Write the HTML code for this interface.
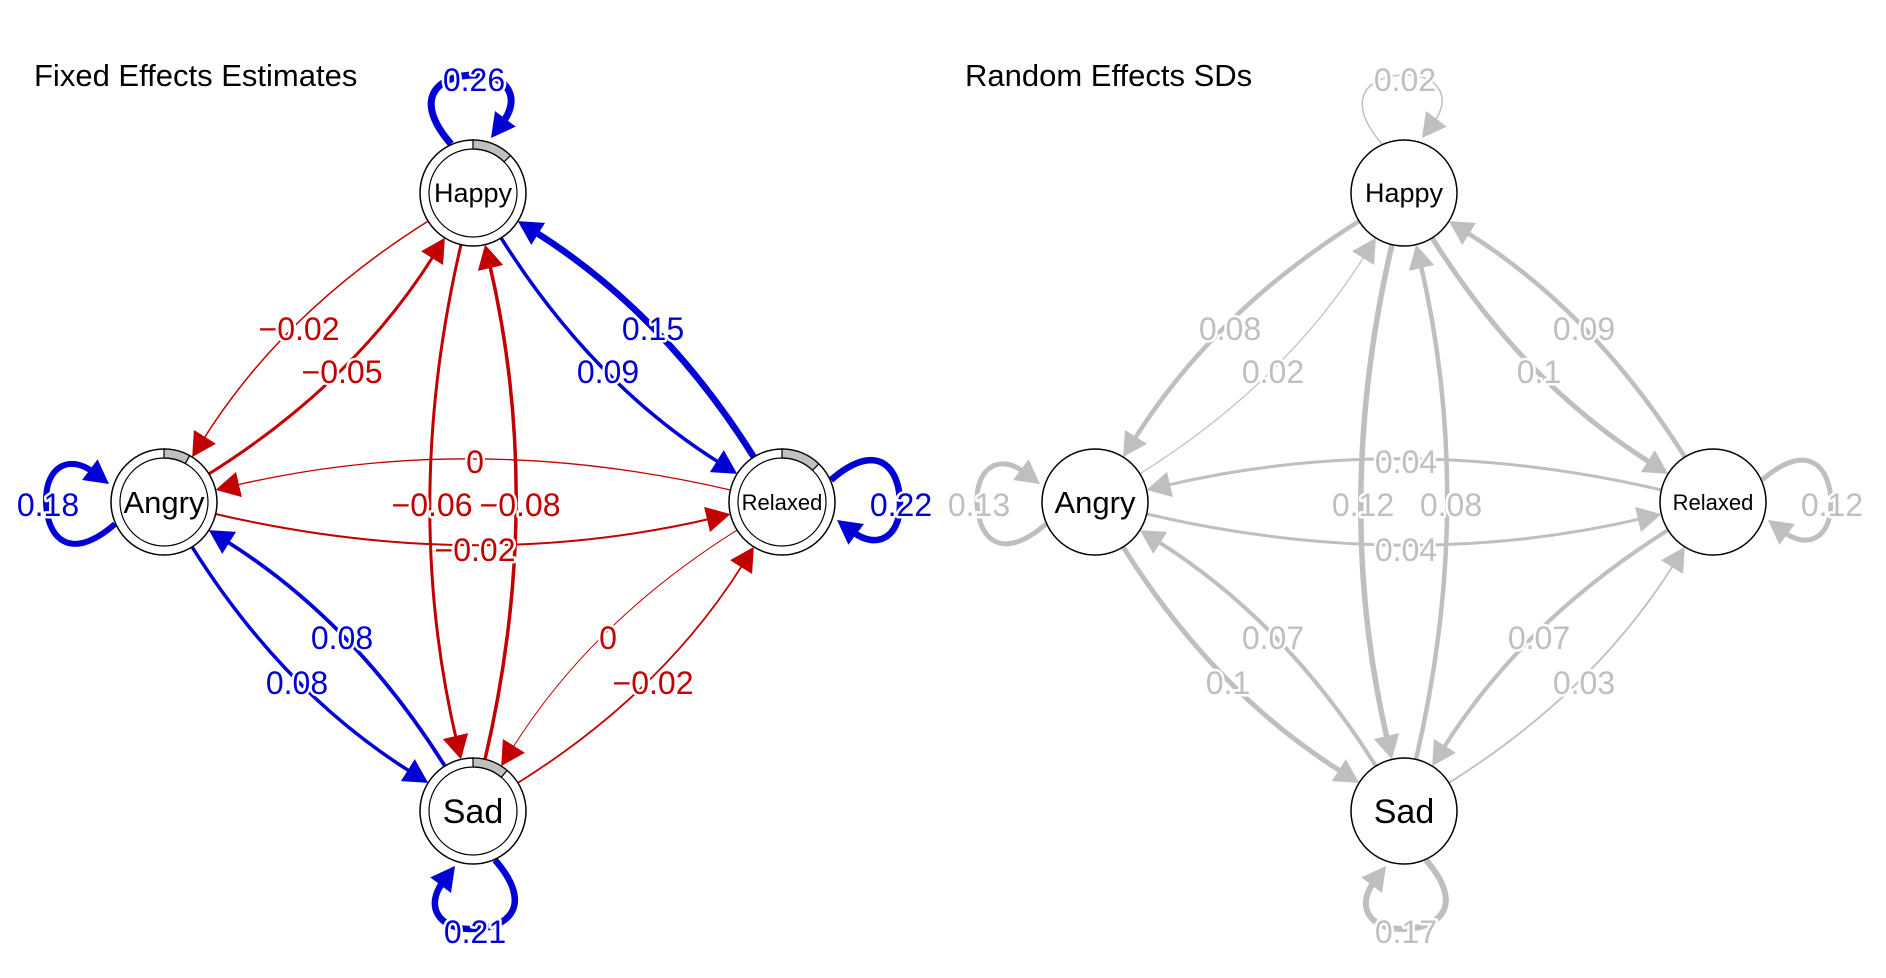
<!DOCTYPE html>
<html><head><meta charset="utf-8"><style>
html,body{margin:0;padding:0;background:#fff;}
svg{display:block;}
text{font-family:"Liberation Sans",Arial,sans-serif;}
.lb{font-size:32px;text-anchor:middle;paint-order:stroke;stroke:#fff;stroke-width:5px;stroke-linejoin:round;}
.nd{text-anchor:middle;fill:#000;}
</style></head><body>
<svg width="1886" height="978" viewBox="0 0 1886 978" xmlns="http://www.w3.org/2000/svg">
<defs>
<marker id="mb" markerWidth="26" markerHeight="28" refX="4" refY="14" orient="auto" markerUnits="userSpaceOnUse" viewBox="0 0 26 28"><path d="M0,1 L24,14 L0,27 z" fill="#0000d5"/></marker>
<marker id="mr" markerWidth="26" markerHeight="28" refX="4" refY="14" orient="auto" markerUnits="userSpaceOnUse" viewBox="0 0 26 28"><path d="M0,1 L24,14 L0,27 z" fill="#c20000"/></marker>
<marker id="mg" markerWidth="26" markerHeight="28" refX="4" refY="14" orient="auto" markerUnits="userSpaceOnUse" viewBox="0 0 26 28"><path d="M0,1 L24,14 L0,27 z" fill="#bfbfbf"/></marker>
<path id="loop" d="M-22,-49 C-62,-95 -35,-118 2,-118 C35,-118 48,-95 30,-71" fill="none"/>
</defs>

<text x="34" y="86" font-size="31" fill="#000">Fixed Effects Estimates</text>
<text x="965" y="86" font-size="31" fill="#000">Random Effects SDs</text>

<g fill="none">
<path d="M428.1,221.1 Q283.1,312.1 202.8,440.2" stroke="#c20000" stroke-width="1.5" marker-end="url(#mr)"/>
<path d="M208.9,473.9 Q353.9,382.9 434.2,254.8" stroke="#c20000" stroke-width="3" marker-end="url(#mr)"/>
<path d="M753.9,457.1 Q662.9,312.1 534.8,231.8" stroke="#0000d5" stroke-width="6.5" marker-end="url(#mb)"/>
<path d="M501.1,237.9 Q592.1,382.9 720.2,463.2" stroke="#0000d5" stroke-width="3.5" marker-end="url(#mb)"/>
<path d="M517.9,782.9 Q662.9,691.9 743.2,563.8" stroke="#c20000" stroke-width="1.8" marker-end="url(#mr)"/>
<path d="M737.1,530.1 Q592.1,621.1 511.8,749.2" stroke="#c20000" stroke-width="1" marker-end="url(#mr)"/>
<path d="M192.1,546.9 Q283.1,691.9 411.2,772.2" stroke="#0000d5" stroke-width="3.5" marker-end="url(#mb)"/>
<path d="M444.9,766.1 Q353.9,621.1 225.8,540.8" stroke="#0000d5" stroke-width="3.8" marker-end="url(#mb)"/>
<path d="M730.4,490 Q473,430 235.1,485.4" stroke="#c20000" stroke-width="1.3" marker-end="url(#mr)"/>
<path d="M215.6,514 Q473,574 710.9,518.6" stroke="#c20000" stroke-width="2" marker-end="url(#mr)"/>
<path d="M461,244.6 Q401,502 456.4,739.9" stroke="#c20000" stroke-width="3" marker-end="url(#mr)"/>
<path d="M485,759.4 Q545,502 489.6,264.1" stroke="#c20000" stroke-width="3.5" marker-end="url(#mr)"/>
<use href="#loop" transform="translate(473,193)" stroke="#0000d5" stroke-width="7" marker-end="url(#mb)"/>
<use href="#loop" transform="translate(164,502) rotate(-90)" stroke="#0000d5" stroke-width="6" marker-end="url(#mb)"/>
<use href="#loop" transform="translate(782,502) rotate(90)" stroke="#0000d5" stroke-width="6.5" marker-end="url(#mb)"/>
<use href="#loop" transform="translate(473,811) rotate(180)" stroke="#0000d5" stroke-width="6.5" marker-end="url(#mb)"/>
</g>

<g stroke="#000" stroke-width="1.5" fill="#fff">
<circle cx="473" cy="193" r="53"/><circle cx="164" cy="502" r="53"/><circle cx="782" cy="502" r="53"/><circle cx="473" cy="811" r="53"/>
</g>
<g fill="#c0c0c0" stroke="#000" stroke-width="1.2">
<path d="M473,140 A53,53 0 0 1 510.5,155.5 L504.1,161.9 A44,44 0 0 0 473,149 Z"/>
<path d="M164,449 A53,53 0 0 1 189.7,455.6 L185.3,463.5 A44,44 0 0 0 164,458 Z"/>
<path d="M782,449 A53,53 0 0 1 818.8,463.9 L812.6,470.3 A44,44 0 0 0 782,458 Z"/>
<path d="M473,758 A53,53 0 0 1 507.1,770.4 L501.3,777.3 A44,44 0 0 0 473,767 Z"/>
</g>
<g fill="none" stroke="#000" stroke-width="1.2">
<circle cx="473" cy="193" r="44"/><circle cx="164" cy="502" r="44"/><circle cx="782" cy="502" r="44"/><circle cx="473" cy="811" r="44"/>
</g>
<text class="nd" x="473" y="202" font-size="27">Happy</text>
<text class="nd" x="164" y="513" font-size="31">Angry</text>
<text class="nd" x="782" y="510" font-size="22">Relaxed</text>
<text class="nd" x="473" y="823" font-size="34">Sad</text>

<g class="lb">
<text x="474" y="91" fill="#0000d5">0.26</text>
<text x="299" y="340" fill="#c20000">−0.02</text>
<text x="342" y="383" fill="#c20000">−0.05</text>
<text x="653" y="340" fill="#0000d5">0.15</text>
<text x="608" y="383" fill="#0000d5">0.09</text>
<text x="475" y="473" fill="#c20000">0</text>
<text x="48" y="516" fill="#0000d5">0.18</text>
<text x="901" y="516" fill="#0000d5">0.22</text>
<text x="432" y="516" fill="#c20000">−0.06</text>
<text x="520" y="516" fill="#c20000">−0.08</text>
<text x="475" y="561" fill="#c20000">−0.02</text>
<text x="342" y="649" fill="#0000d5">0.08</text>
<text x="297" y="694" fill="#0000d5">0.08</text>
<text x="608" y="649" fill="#c20000">0</text>
<text x="653" y="694" fill="#c20000">−0.02</text>
<text x="475" y="943" fill="#0000d5">0.21</text>
</g>

<g transform="translate(931,0)">
<g fill="none" stroke="#bfbfbf">
<path d="M428.1,221.1 Q283.1,312.1 202.8,440.2" stroke-width="4.5" marker-end="url(#mg)"/>
<path d="M208.9,473.9 Q353.9,382.9 434.2,254.8" stroke-width="1.2" marker-end="url(#mg)"/>
<path d="M753.9,457.1 Q662.9,312.1 534.8,231.8" stroke-width="4.5" marker-end="url(#mg)"/>
<path d="M501.1,237.9 Q592.1,382.9 720.2,463.2" stroke-width="5" marker-end="url(#mg)"/>
<path d="M517.9,782.9 Q662.9,691.9 743.2,563.8" stroke-width="1.8" marker-end="url(#mg)"/>
<path d="M737.1,530.1 Q592.1,621.1 511.8,749.2" stroke-width="4" marker-end="url(#mg)"/>
<path d="M192.1,546.9 Q283.1,691.9 411.2,772.2" stroke-width="5" marker-end="url(#mg)"/>
<path d="M444.9,766.1 Q353.9,621.1 225.8,540.8" stroke-width="4" marker-end="url(#mg)"/>
<path d="M730.4,490 Q473,430 235.1,485.4" stroke-width="3" marker-end="url(#mg)"/>
<path d="M215.6,514 Q473,574 710.9,518.6" stroke-width="3" marker-end="url(#mg)"/>
<path d="M461,244.6 Q401,502 456.4,739.9" stroke-width="5.5" marker-end="url(#mg)"/>
<path d="M485,759.4 Q545,502 489.6,264.1" stroke-width="4.5" marker-end="url(#mg)"/>
<use href="#loop" transform="translate(473,193)" stroke-width="1.5" marker-end="url(#mg)"/>
<use href="#loop" transform="translate(164,502) rotate(-90)" stroke-width="5" marker-end="url(#mg)"/>
<use href="#loop" transform="translate(782,502) rotate(90)" stroke-width="5" marker-end="url(#mg)"/>
<use href="#loop" transform="translate(473,811) rotate(180)" stroke-width="6" marker-end="url(#mg)"/>
</g>
<g stroke="#000" stroke-width="1.5" fill="#fff">
<circle cx="473" cy="193" r="53"/><circle cx="164" cy="502" r="53"/><circle cx="782" cy="502" r="53"/><circle cx="473" cy="811" r="53"/>
</g>
<text class="nd" x="473" y="202" font-size="27">Happy</text>
<text class="nd" x="164" y="513" font-size="31">Angry</text>
<text class="nd" x="782" y="510" font-size="22">Relaxed</text>
<text class="nd" x="473" y="823" font-size="34">Sad</text>
<g class="lb" fill="#bfbfbf">
<text x="474" y="91">0.02</text>
<text x="299" y="340">0.08</text>
<text x="342" y="383">0.02</text>
<text x="653" y="340">0.09</text>
<text x="608" y="383">0.1</text>
<text x="475" y="473">0.04</text>
<text x="48" y="516">0.13</text>
<text x="901" y="516">0.12</text>
<text x="432" y="516">0.12</text>
<text x="520" y="516">0.08</text>
<text x="475" y="561">0.04</text>
<text x="342" y="649">0.07</text>
<text x="297" y="694">0.1</text>
<text x="608" y="649">0.07</text>
<text x="653" y="694">0.03</text>
<text x="475" y="943">0.17</text>
</g>
</g>
</svg>
</body></html>
